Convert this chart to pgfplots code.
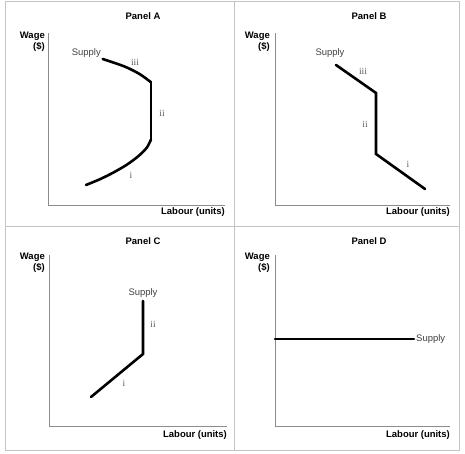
\documentclass[border=0pt]{standalone}
\usepackage{fontspec}
\setmainfont{Liberation Sans}
\newfontfamily\romanfont{Liberation Serif}
\usepackage{pgfplots}
\pgfplotsset{compat=1.18}

\definecolor{axisgray}{HTML}{8C8C8C}
\definecolor{framegray}{HTML}{C4C4C4}
\definecolor{labelgray}{HTML}{404040}
\definecolor{numgray}{HTML}{5A5A5A}

\pgfplotsset{
  panel/.style={
    scale only axis,
    axis x line=bottom, axis y line=left,
    axis line style={-, axisgray, line width=1bp},
    xtick=\empty, ytick=\empty,
    xmin=0, ymin=0,
    enlargelimits=false,
    anchor=south west,
    clip=false
  },
  supply/.style={black, line width=2.6bp, no marks, line cap=round}
}

\begin{document}
\begin{tikzpicture}[x=1bp, y=1bp, font=\fontsize{9.5}{11}\selectfont]
\path[use as bounding box] (0,0) rectangle (465,454);

% frame of the four panels (y flipped: 454 - py)
\draw[framegray, line width=1bp] (5,3) rectangle (459,452);
\draw[framegray, line width=1bp] (234,3) -- (234,452);
\draw[framegray, line width=1bp] (5,227) -- (459,227);

% Panel A
\begin{axis}[panel, at={(48,248)}, width=177bp, height=173bp, xmax=177, ymax=173]
\addplot[supply, smooth] coordinates {
  (38,21) (52,26.8) (65.3,33.4) (78.7,41.2) (90.3,49.8) (98.7,58.2) (103,66.5)
};
\addplot[supply] coordinates {(103,66) (103,123.7)};
\addplot[supply, smooth] coordinates {
  (103,123.7) (92,131.7) (77,139.3) (54.7,147)
};
\end{axis}

% Panel B
\begin{axis}[panel, at={(275,248)}, width=175bp, height=173bp, xmax=175, ymax=173]
\addplot[supply, line join=miter] coordinates {
  (61,141) (101,113) (101,52) (150,17)
};
\end{axis}

% Panel C
\begin{axis}[panel, at={(49,27)}, width=178bp, height=172bp, xmax=178, ymax=172]
\addplot[supply, line join=miter] coordinates {
  (42,30) (94,73) (94,126)
};
\end{axis}

% Panel D
\begin{axis}[panel, at={(275,27)}, width=175bp, height=172bp, xmax=175, ymax=172]
\addplot[supply] coordinates {
  (0,88) (139,88)
};
\end{axis}

% titles
\node[font=\fontsize{9.5}{11}\selectfont\bfseries] at (143,438) {Panel A};
\node[font=\fontsize{9.5}{11}\selectfont\bfseries] at (369,438) {Panel B};
\node[font=\fontsize{9.5}{11}\selectfont\bfseries] at (143,213) {Panel C};
\node[font=\fontsize{9.5}{11}\selectfont\bfseries] at (369,213) {Panel D};

% axis labels
\foreach \wx/\wy in {45/412, 270/412, 45/191, 270/191}
  \node[anchor=east, align=right, inner sep=0pt,
        font=\fontsize{9.5}{11}\selectfont\bfseries] at (\wx,\wy) {Wage\\(\$)};
\foreach \lx/\ly in {225/242, 450/242, 227/19, 450/19}
  \node[anchor=east, inner sep=0pt,
        font=\fontsize{9.5}{11}\selectfont\bfseries] at (\lx,\ly) {Labour (units)};

% curve labels
\begin{scope}[labelgray, inner sep=0pt]
\node[anchor=east] at (101,401) {Supply};
\node at (330,401) {Supply};
\node at (143,161) {Supply};
\node[anchor=west] at (416,115) {Supply};
\end{scope}
\begin{scope}[numgray, inner sep=0pt, font=\fontsize{9.5}{10}\romanfont]
\node at (135,392) {iii};
\node at (162,341) {ii};
\node at (131,279) {i};
\node at (363,383) {iii};
\node at (365,330) {ii};
\node at (408,290) {i};
\node at (153,130) {ii};
\node at (124,71) {i};
\end{scope}
\end{tikzpicture}
\end{document}
